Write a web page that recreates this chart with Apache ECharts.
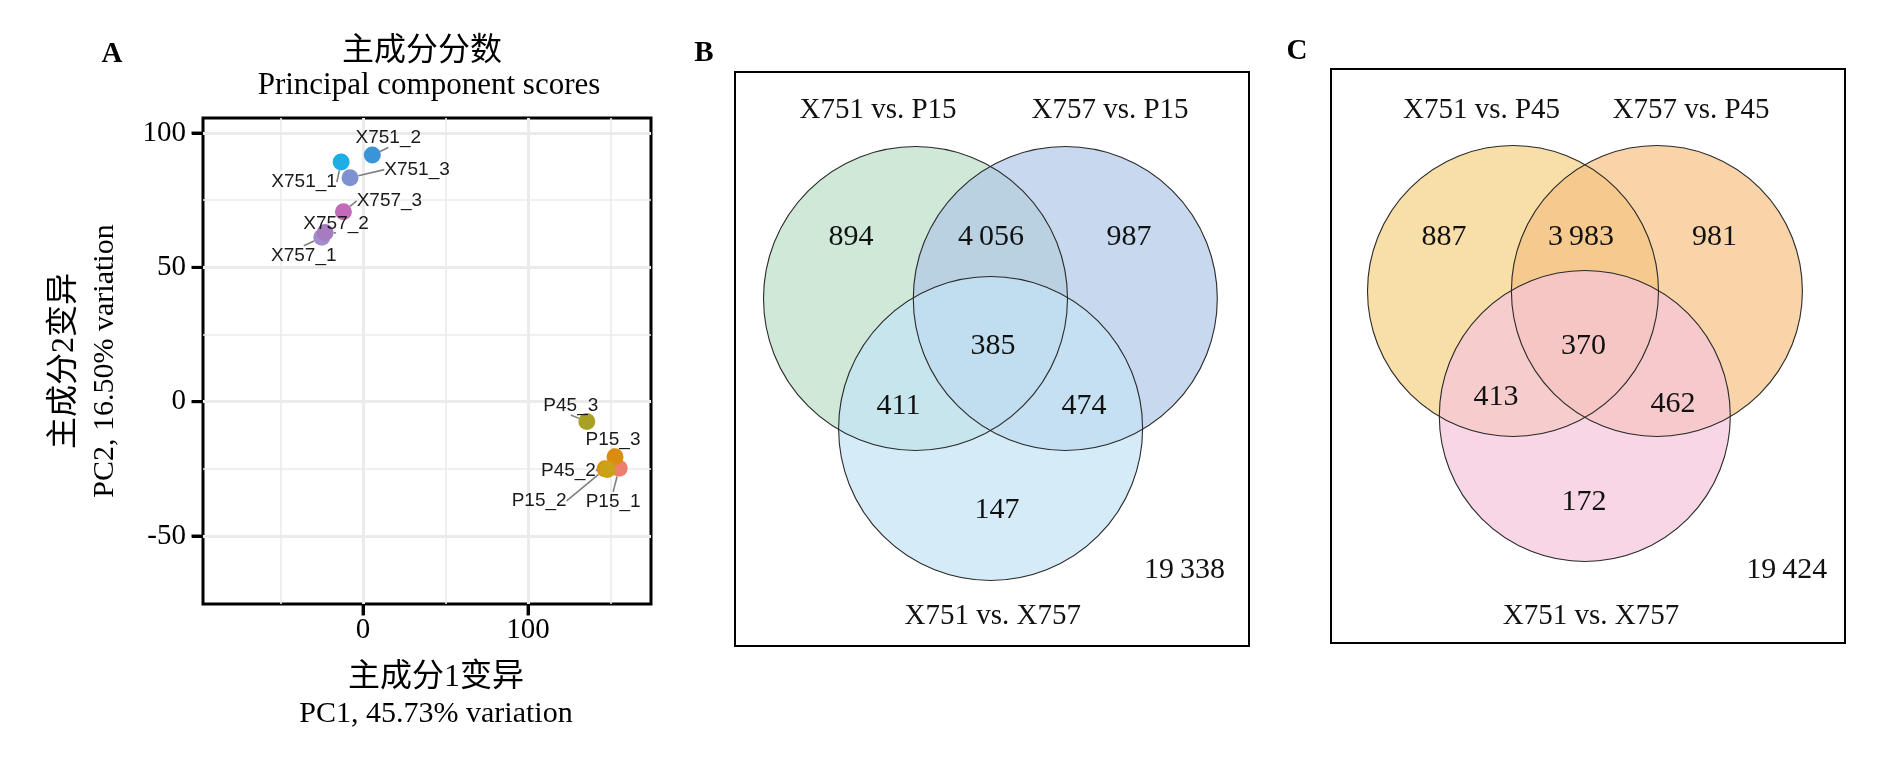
<!DOCTYPE html>
<html><head><meta charset="utf-8">
<script src="https://cdn.jsdelivr.net/npm/echarts@6/dist/echarts.min.js"></script>
<style>html,body{margin:0;padding:0;background:#fff}#c{width:1890px;height:780px}</style>
</head><body><div id="c"></div>
<script>
// ---------------- Panel A: PCA scores ----------------
const sampleNames = ['X751_1','X751_2','X751_3','X757_1','X757_2','X757_3','P15_1','P15_2','P15_3','P45_2','P45_3'];
const pc1Scores   = [-13.3, 5.6, -7.9, -25.0, -23.0, -11.9, 155.2, 146.7, 152.7, 148.1, 135.6];
const pc2Scores   = [89.2, 91.8, 83.4, 61.2, 63.0, 70.7, -24.8, -25.0, -20.5, -25.2, -7.4];
const xTickValues = [0, 100];
const xMinorGrid  = [-50, 50, 150];
const yTickValues = [-50, 0, 50, 100];
const yMinorGrid  = [-25, 25, 75];
const xRange = [-97, 174.5];
const yRange = [-75.3, 105.6];

// ---------------- Panels B / C: Venn counts ----------------
// region order: only set1, set1&2, only set2, set1&3, all three, set2&3, only set3
const vennBSets    = ['X751 vs. P15', 'X757 vs. P15', 'X751 vs. X757'];
const vennBCounts  = [894, 4056, 987, 411, 385, 474, 147];
const vennBOutside = 19338;
const vennCSets    = ['X751 vs. P45', 'X757 vs. P45', 'X751 vs. X757'];
const vennCCounts  = [887, 3983, 981, 413, 370, 462, 172];
const vennCOutside = 19424;

// ---------------- styles / layout ----------------
const SERIF = "'Liberation Serif','Noto Sans CJK SC',serif";
const SANS = "'Liberation Sans',Arial,sans-serif";
const sampleColors = {
  X751_1:'#1DAEE5', X751_2:'#3A94D8', X751_3:'#7E91D0',
  X757_1:'#A48CCB', X757_2:'#A57CC0', X757_3:'#C26BB8',
  P15_1:'#F07E6E', P15_2:'#D89000', P15_3:'#D98C0E', P45_2:'#C9A21A', P45_3:'#A8A125'
};
const labelNudge = {
  X751_1:[-37,20], X751_2:[16,-17], X751_3:[67,-8], X757_1:[-18,18], X757_2:[11,-9], X757_3:[46,-11],
  P15_1:[-6,33], P15_2:[-66,32], P15_3:[-2,-17], P45_2:[-39,1], P45_3:[-16,-16]
};
// Venn geometry in box pixel units (box 514 x 574)
const vennLayoutB = {
  circles: [[180.5,226.5,152],[330.3,226.5,152],[255.6,356.5,152]],
  regions: [[116,165],[256,165],[394,165],[163.5,334],[258,274],[349,334],[262,438]],
  outside: [449.5,498.5],
  setLabels: [[143,38],[375,38],[257.7,544]],
  fills: ['rgba(186,222,199,0.7)','rgba(176,199,231,0.7)','rgba(195,228,245,0.7)']
};
const vennLayoutC = {
  circles: [[182,222,145.5],[325.9,222,145.5],[253.8,347,145.5]],
  regions: [[113,168],[250,168],[383.6,168],[165,328],[252.6,277],[342,335.5],[253,433]],
  outside: [455.7,501],
  setLabels: [[150.5,41],[360,41],[260,547]],
  fills: ['rgba(245,208,129,0.7)','rgba(245,194,131,0.7)','rgba(245,196,219,0.7)']
};

function fmtCount(v){ const s = String(v); return s.length > 3 ? s.slice(0,-3) + '\u2009' + s.slice(-3) : s; }

function circleSeries(axisIdx, layout, mode){
  return {
    type:'custom', xAxisIndex:axisIdx, yAxisIndex:axisIdx, silent:true, z: mode==='fill'?2:3,
    data: layout.circles.map(c => c),
    renderItem: (params, api) => {
      const p = api.coord([api.value(0), api.value(1)]);
      const r = api.size([api.value(2), 0])[0];
      return {type:'circle', shape:{cx:p[0], cy:p[1], r:r},
        style: mode==='fill' ? {fill: layout.fills[params.dataIndex], stroke:null}
                             : {fill:'none', stroke:'#2a2a2a', lineWidth:1.1}};
    }
  };
}
function textSeries(axisIdx, positions, texts, size){
  return {
    type:'custom', xAxisIndex:axisIdx, yAxisIndex:axisIdx, silent:true, z:4,
    data: positions.map(p => p),
    renderItem: (params, api) => {
      const p = api.coord([api.value(0), api.value(1)]);
      return {type:'text', x:p[0], y:p[1],
        style:{text: texts[params.dataIndex], fontFamily: SERIF, fontSize: size, fill:'#111', align:'center', verticalAlign:'middle'}};
    }
  };
}
function vennSeries(axisIdx, layout, sets, counts, outside){
  return [
    circleSeries(axisIdx, layout, 'fill'),
    circleSeries(axisIdx, layout, 'stroke'),
    textSeries(axisIdx, layout.regions, counts.map(fmtCount), 30),
    textSeries(axisIdx, [layout.outside], [fmtCount(outside)], 30),
    textSeries(axisIdx, layout.setLabels, sets, 29)
  ];
}
// outward tick marks at the panel-A border, placed through the axis scales
function tickSeries(values, dir){
  return {
    type:'custom', xAxisIndex:0, yAxisIndex:0, clip:false, silent:true, z:6,
    data: values.map(v => [v]),
    renderItem: (params, api) => {
      const v = api.value(0);
      if (dir === 'y') {
        const p = api.coord([xRange[0], v]);
        return {type:'line', shape:{x1:p[0]-11.5, y1:p[1], x2:p[0], y2:p[1]}, style:{stroke:'#000', lineWidth:3}};
      }
      const p = api.coord([v, yRange[0]]);
      return {type:'line', shape:{x1:p[0], y1:p[1], x2:p[0], y2:p[1]+11.5}, style:{stroke:'#000', lineWidth:3}};
    }
  };
}

const majorSplit = {show:true, lineStyle:{color:'#ebebeb', width:3}};
const minorSplit = {show:true, lineStyle:{color:'#ebebeb', width:1.6}};
const tickLabel = {fontFamily: SERIF, fontSize:29, color:'#000'};
const panelLetter = {fontFamily:SERIF, fontWeight:'bold', fontSize:29, color:'#000'};

const chart = echarts.init(document.getElementById('c'), null, {renderer:'canvas'});
chart.setOption({
  backgroundColor:'#fff',
  animation:false,
  title: [
    {text:'A', left:112, top:40, textAlign:'center', padding:0, textStyle:panelLetter},
    {text:'B', left:704, top:39, textAlign:'center', padding:0, textStyle:panelLetter},
    {text:'C', left:1297, top:37, textAlign:'center', padding:0, textStyle:panelLetter},
    {text:'主成分分数', left:422, top:36, textAlign:'center', padding:0, textStyle:{fontFamily:SERIF, fontWeight:'normal', fontSize:32, color:'#000'}},
    {text:'Principal component scores', left:429, top:70, textAlign:'center', padding:0, textStyle:{fontFamily:SERIF, fontWeight:'normal', fontSize:31, color:'#000'}}
  ],
  grid: [
    {left:203, top:118, width:448, height:486, show:true, borderColor:'#000', borderWidth:3, backgroundColor:'#fff', containLabel:false},
    {left:735, top:72, width:514, height:574, show:true, borderColor:'#000', borderWidth:2, backgroundColor:'#fff'},
    {left:1331, top:69, width:514, height:574, show:true, borderColor:'#000', borderWidth:2, backgroundColor:'#fff'}
  ],
  xAxis: [
    {type:'value', gridIndex:0, min:xRange[0], max:xRange[1], position:'bottom',
     axisLine:{show:false, onZero:false}, axisTick:{show:true, customValues:xTickValues, length:11, lineStyle:{color:'#000', width:3}},
     axisLabel:Object.assign({customValues:xTickValues, margin:12}, tickLabel),
     splitLine:majorSplit,
     name:'{a|主成分1变异}\n{b|PC1, 45.73% variation}', nameLocation:'middle', nameGap:56,
     nameTextStyle:{padding:[0,0,0,18], rich:{a:{fontFamily:SERIF, fontSize:32, lineHeight:36, color:'#000'}, b:{fontFamily:SERIF, fontSize:30, lineHeight:36, color:'#000'}}}},
    {type:'value', gridIndex:0, min:xRange[0], max:xRange[1], position:'top',
     axisLine:{show:false, onZero:false}, axisTick:{show:false, customValues:xMinorGrid}, axisLabel:{show:false, customValues:xMinorGrid},
     splitLine:minorSplit},
    {type:'value', gridIndex:1, min:0, max:514, show:false},
    {type:'value', gridIndex:2, min:0, max:514, show:false}
  ],
  yAxis: [
    {type:'value', gridIndex:0, min:yRange[0], max:yRange[1], position:'left',
     axisLine:{show:false, onZero:false}, axisTick:{show:true, customValues:yTickValues, length:11, lineStyle:{color:'#000', width:3}},
     axisLabel:Object.assign({customValues:yTickValues, margin:17}, tickLabel),
     splitLine:majorSplit,
     name:'{a|主成分2变异}\n{b|PC2, 16.50% variation}', nameLocation:'middle', nameGap:78, nameRotate:90,
     nameTextStyle:{rich:{a:{fontFamily:SERIF, fontSize:32, lineHeight:40, color:'#000'}, b:{fontFamily:SERIF, fontSize:30, lineHeight:40, color:'#000'}}}},
    {type:'value', gridIndex:0, min:yRange[0], max:yRange[1], position:'right',
     axisLine:{show:false, onZero:false}, axisTick:{show:false, customValues:yMinorGrid}, axisLabel:{show:false, customValues:yMinorGrid},
     splitLine:minorSplit},
    {type:'value', gridIndex:1, min:0, max:574, inverse:true, show:false},
    {type:'value', gridIndex:2, min:0, max:574, inverse:true, show:false}
  ],
  series: [
    {type:'scatter', xAxisIndex:0, yAxisIndex:0, symbolSize:17, z:5,
     data: sampleNames.map((n,i) => ({name:n, value:[pc1Scores[i], pc2Scores[i]], itemStyle:{color:sampleColors[n], opacity:1}})),
     label:{show:true, position:'inside', formatter:'{b}', fontFamily:SANS, fontSize:19, color:'#1a1a1a'},
     labelLine:{show:true, lineStyle:{color:'#808080', width:1.6}},
     labelLayout: (p) => { const n = sampleNames[p.dataIndex]; return {dx: labelNudge[n][0], dy: labelNudge[n][1]}; }
    },
    tickSeries(yTickValues, 'y'),
    tickSeries(xTickValues, 'x'),
    ...vennSeries(2, vennLayoutB, vennBSets, vennBCounts, vennBOutside),
    ...vennSeries(3, vennLayoutC, vennCSets, vennCCounts, vennCOutside)
  ]
});
</script>
</body></html>
